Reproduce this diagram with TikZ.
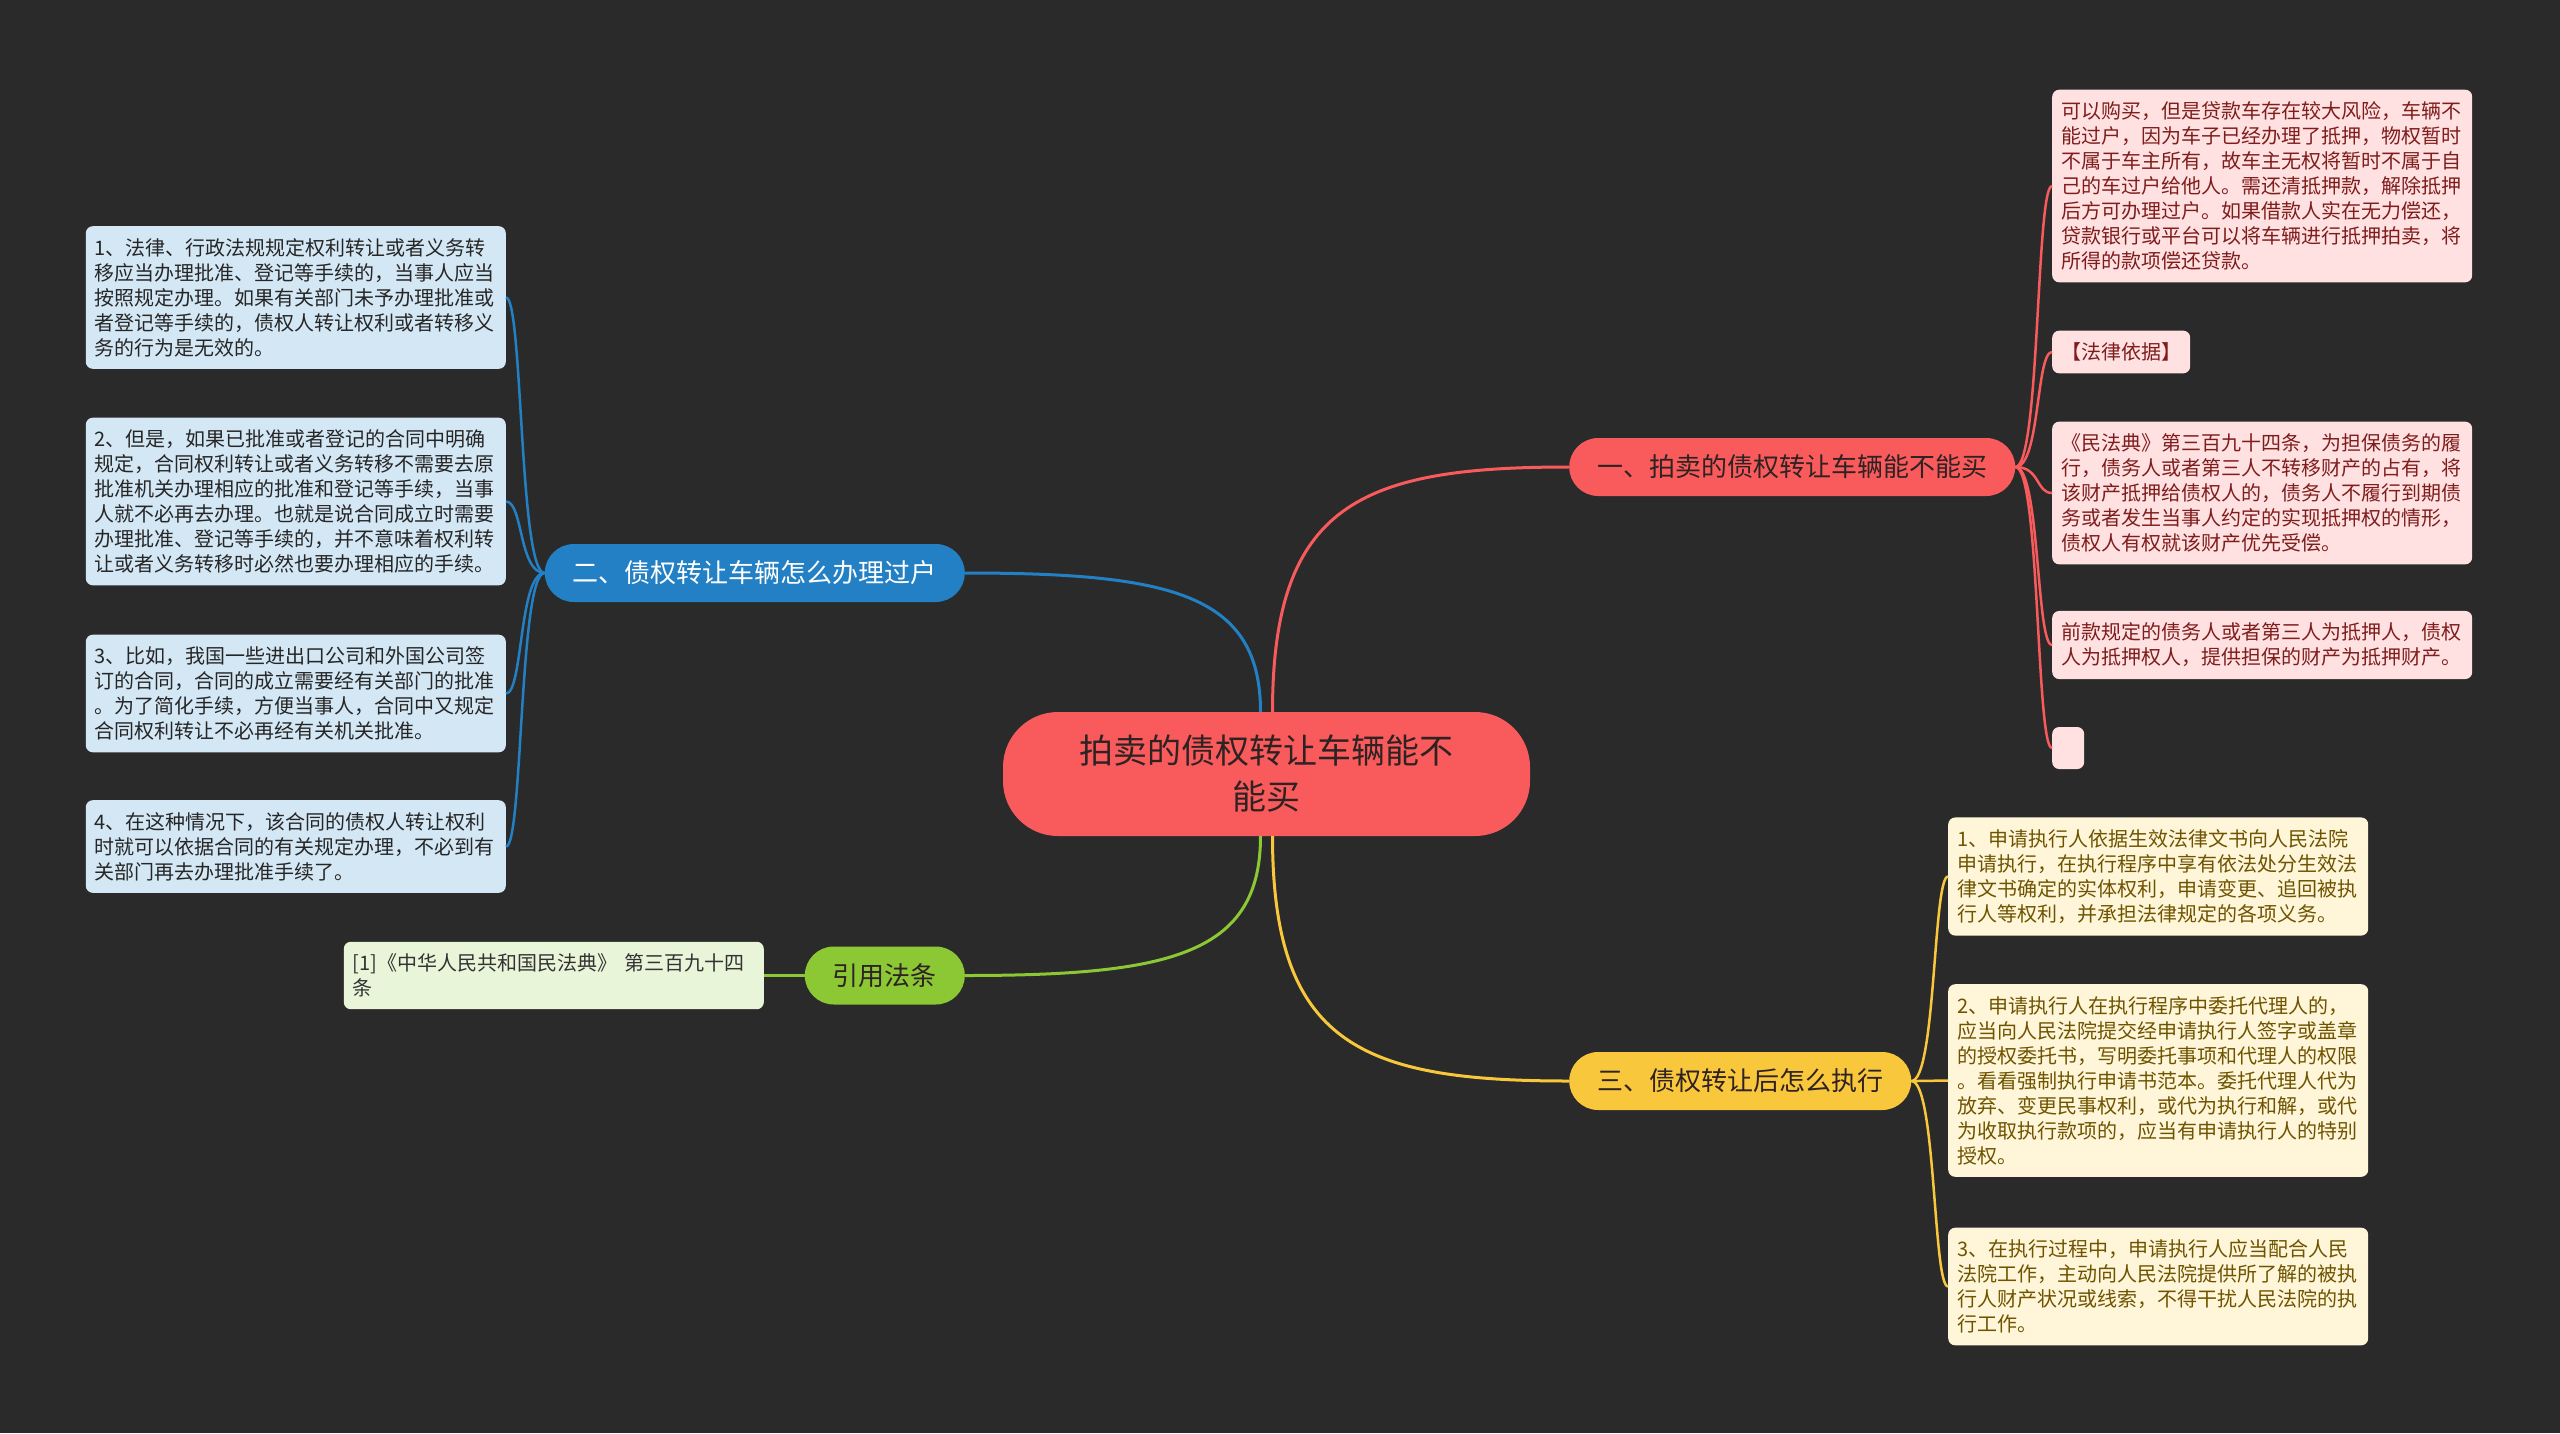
\documentclass[tikz,border=0pt]{standalone}
\usepackage{fontspec}
\newfontfamily\cjk{Noto Sans CJK SC}
\definecolor{bg}{HTML}{2A2A2A}
\definecolor{cred}{HTML}{F95B5D}
\definecolor{credleaf}{HTML}{FFE1E1}
\definecolor{credtext}{HTML}{7F1D1D}
\definecolor{cblue}{HTML}{2380C4}
\definecolor{cblueleaf}{HTML}{D4E7F5}
\definecolor{cgreen}{HTML}{8BC833}
\definecolor{cgreenleaf}{HTML}{E9F5D9}
\definecolor{cyellow}{HTML}{F9C73B}
\definecolor{cyellowleaf}{HTML}{FFF5D8}
\definecolor{cyellowtext}{HTML}{6E5400}
\definecolor{darktext}{HTML}{2E2222}
\begin{document}
\begin{tikzpicture}[x=1pt,y=-1pt,
  rootnode/.style={fill=cred, rounded corners=55pt, minimum width=527pt, minimum height=124pt,
    align=center, text=darktext, font=\cjk\fontsize{34}{46}\selectfont, inner sep=0pt},
  branch/.style={rounded corners=29pt, minimum height=58pt, inner xsep=28pt, inner ysep=0pt,
    font=\cjk\fontsize{26}{30}\selectfont},
  leaf/.style={rounded corners=7pt, inner xsep=9pt, inner ysep=12pt, align=left,
    text width=402pt, font=\cjk\fontsize{20}{25}\selectfont},
  thick line/.style={line width=3pt},
  thin line/.style={line width=2.5pt}
]
\fill[bg] (0,0) rectangle (2560,1433);
\useasboundingbox (0,0) rectangle (2560,1433);

% root
\node[rootnode] (c) at (1266.5,774) {拍卖的债权转让车辆能不\\能买};

% branches
\node[branch, fill=cred, text=darktext, anchor=west] (b1) at (1569,467) {一、拍卖的债权转让车辆能不能买};
\node[branch, fill=cblue, text=white, anchor=east] (b2) at (965,573) {二、债权转让车辆怎么办理过户};
\node[branch, fill=cgreen, text=darktext, anchor=east] (b4) at (965,975.5) {引用法条};
\node[branch, fill=cyellow, text=darktext, anchor=west] (b3) at (1569,1081) {三、债权转让后怎么执行};

% root connectors
\draw[thick line, cred] ([xshift=6pt]c.north) .. controls (1272.5,504) and (1361,467) .. (b1.west);
\draw[thick line, cblue] ([xshift=-6pt]c.north) .. controls (1260.5,594) and (1171,573) .. (b2.east);
\draw[thick line, cgreen] ([xshift=-6pt]c.south) .. controls (1260.5,954) and (1171,975.5) .. (b4.east);
\draw[thick line, cyellow] ([xshift=6pt]c.south) .. controls (1272.5,1044) and (1361,1081) .. (b3.west);

% red leaves
\node[leaf, fill=credleaf, text=credtext, anchor=west] (r1) at (2052,186) {可以购买，但是贷款车存在较大风险，车辆不\\
能过户，因为车子已经办理了抵押，物权暂时\\
不属于车主所有，故车主无权将暂时不属于自\\
己的车过户给他人。需还清抵押款，解除抵押\\
后方可办理过户。如果借款人实在无力偿还，\\
贷款银行或平台可以将车辆进行抵押拍卖，将\\
所得的款项偿还贷款。};
\node[rounded corners=7pt, inner xsep=9pt, inner ysep=12pt, fill=credleaf, text=credtext,
  font=\cjk\fontsize{20}{25}\selectfont, anchor=west] (r2) at (2052,352) {【法律依据】};
\node[leaf, fill=credleaf, text=credtext, anchor=west] (r3) at (2052,493) {《民法典》第三百九十四条，为担保债务的履\\
行，债务人或者第三人不转移财产的占有，将\\
该财产抵押给债权人的，债务人不履行到期债\\
务或者发生当事人约定的实现抵押权的情形，\\
债权人有权就该财产优先受偿。};
\node[leaf, fill=credleaf, text=credtext, anchor=west] (r4) at (2052,645) {前款规定的债务人或者第三人为抵押人，债权\\
人为抵押权人，提供担保的财产为抵押财产。};
\node[rounded corners=7pt, fill=credleaf, minimum width=32pt, minimum height=42pt, inner sep=0pt,
  anchor=west] (r5) at (2052,748) {};

\foreach \n/\yy in {r1/186, r2/352, r3/493, r4/645, r5/748}
  \draw[thin line, cred] (b1.east) .. controls (2040,467) and (2036,\yy) .. (\n.west);

% blue leaves
\node[leaf, fill=cblueleaf, text=black!85, anchor=east] (l1) at (506,297.5) {1、法律、行政法规规定权利转让或者义务转\\
移应当办理批准、登记等手续的，当事人应当\\
按照规定办理。如果有关部门未予办理批准或\\
者登记等手续的，债权人转让权利或者转移义\\
务的行为是无效的。};
\node[leaf, fill=cblueleaf, text=black!85, anchor=east] (l2) at (506,501.5) {2、但是，如果已批准或者登记的合同中明确\\
规定，合同权利转让或者义务转移不需要去原\\
批准机关办理相应的批准和登记等手续，当事\\
人就不必再去办理。也就是说合同成立时需要\\
办理批准、登记等手续的，并不意味着权利转\\
让或者义务转移时必然也要办理相应的手续。};
\node[leaf, fill=cblueleaf, text=black!85, anchor=east] (l3) at (506,693.5) {3、比如，我国一些进出口公司和外国公司签\\
订的合同，合同的成立需要经有关部门的批准\\
。为了简化手续，方便当事人，合同中又规定\\
合同权利转让不必再经有关机关批准。};
\node[leaf, fill=cblueleaf, text=black!85, anchor=east] (l4) at (506,846.5) {4、在这种情况下，该合同的债权人转让权利\\
时就可以依据合同的有关规定办理，不必到有\\
关部门再去办理批准手续了。};

\foreach \n/\yy in {l1/297.5, l2/501.5, l3/693.5, l4/846.5}
  \draw[thin line, cblue] (b2.west) .. controls (519,573) and (523,\yy) .. (\n.east);

% green leaf
\node[leaf, fill=cgreenleaf, text=black!80, anchor=east] (g1) at (764,975.5) {[1]《中华人民共和国民法典》 第三百九十四\\
条};
\draw[thin line, cgreen] (b4.west) -- (g1.east);

% yellow leaves
\node[leaf, fill=cyellowleaf, text=cyellowtext, anchor=west] (y1) at (1948,876.5) {1、申请执行人依据生效法律文书向人民法院\\
申请执行，在执行程序中享有依法处分生效法\\
律文书确定的实体权利，申请变更、追回被执\\
行人等权利，并承担法律规定的各项义务。};
\node[leaf, fill=cyellowleaf, text=cyellowtext, anchor=west] (y2) at (1948,1080.5) {2、申请执行人在执行程序中委托代理人的，\\
应当向人民法院提交经申请执行人签字或盖章\\
的授权委托书，写明委托事项和代理人的权限\\
。看看强制执行申请书范本。委托代理人代为\\
放弃、变更民事权利，或代为执行和解，或代\\
为收取执行款项的，应当有申请执行人的特别\\
授权。};
\node[leaf, fill=cyellowleaf, text=cyellowtext, anchor=west] (y3) at (1948,1286.5) {3、在执行过程中，申请执行人应当配合人民\\
法院工作，主动向人民法院提供所了解的被执\\
行人财产状况或线索，不得干扰人民法院的执\\
行工作。};

\foreach \n/\yy in {y1/876.5, y2/1080.5, y3/1286.5}
  \draw[thin line, cyellow] (b3.east) .. controls (1936,1081) and (1933,\yy) .. (\n.west);
\end{tikzpicture}
\end{document}
